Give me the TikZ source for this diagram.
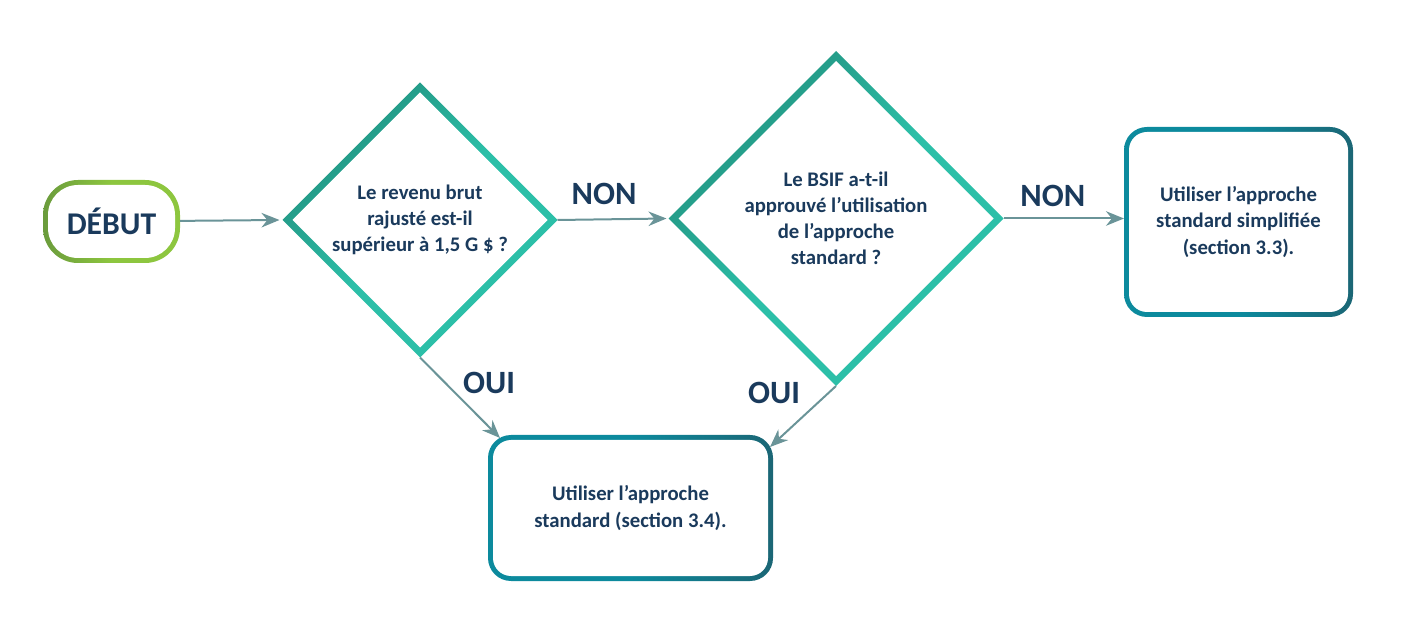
\documentclass[tikz,border=0pt]{standalone}
\usepackage{fontspec}
\setmainfont{Carlito}
\usepackage{xcolor}
\usetikzlibrary{shapes.geometric,arrows.meta,positioning,backgrounds,calc}

\definecolor{navy}{HTML}{1A3A5C}
\definecolor{dkteal}{HTML}{22907E}
\definecolor{ltteal}{HTML}{2CBFA8}
\definecolor{boxteal}{HTML}{0C8A9D}
\definecolor{boxdark}{HTML}{1B6675}
\definecolor{dkgreen}{HTML}{6A9B3C}
\definecolor{ltgreen}{HTML}{8DC63F}
\definecolor{arrowc}{HTML}{6A9498}

\begin{document}
\begin{tikzpicture}[
  txt/.style={font=\bfseries\fontsize{11.8}{14.9}\selectfont, text=navy, align=center},
  startbox/.style={rectangle, minimum width=2.74cm, minimum height=1.66cm, outer sep=0pt,
    font=\bfseries\fontsize{18}{22}\selectfont, text=navy},
  decision/.style={diamond, txt, inner sep=0pt, outer sep=0pt},
  actionbox/.style={rectangle, txt, outer sep=0pt},
  answer/.style={font=\bfseries\fontsize{18.5}{22}\selectfont, text=navy},
  arrow/.style={-{Stealth[length=0.36cm, width=0.29cm]}, line width=0.04cm, draw=arrowc}
]
\useasboundingbox (0,0) rectangle (28.46,-12.54);

\node[startbox] (start) at (2.23,-4.43) {DÉBUT};
\node[decision, minimum size=5.5cm] (d1) at (8.4,-4.4)
  {Le revenu brut\\rajusté est-il\\supérieur à 1,5 G \$ ?};
\node[decision, minimum size=6.7cm] (d2) at (16.72,-4.37)
  {Le BSIF a-t-il\\approuvé l’utilisation\\de l’approche\\standard ?};
\node[actionbox, minimum width=4.58cm, minimum height=3.8cm] (b1) at (24.77,-4.44)
  {Utiliser l’approche\\standard simplifiée\\(section 3.3).};
\node[actionbox, minimum width=5.7cm, minimum height=2.92cm] (b2) at (12.61,-10.16)
  {Utiliser l’approche\\standard (section 3.4).};

% frames with shaded borders
\begin{scope}[on background layer]
  \shade[left color=dkgreen, right color=ltgreen, middle color=ltgreen, rounded corners=0.7cm]
    (start.south west) rectangle (start.north east);
  \fill[white, rounded corners=0.6cm]
    ($(start.south west)+(0.1,0.1)$) rectangle ($(start.north east)-(0.1,0.1)$);
  \foreach \d in {d1,d2} {
    \shade[top color=dkteal, bottom color=ltteal, middle color=ltteal, shading angle=45]
      (\d.north) -- (\d.east) -- (\d.south) -- (\d.west) -- cycle;
    \fill[white] ($(\d.north)+(0,-0.2)$) -- ($(\d.east)+(-0.2,0)$)
      -- ($(\d.south)+(0,0.2)$) -- ($(\d.west)+(0.2,0)$) -- cycle;
  }
  \foreach \b in {b1,b2} {
    \shade[left color=boxteal, right color=boxdark, middle color=boxteal, rounded corners=0.46cm]
      (\b.south west) rectangle (\b.north east);
    \fill[white, rounded corners=0.36cm]
      ($(\b.south west)+(0.1,0.1)$) rectangle ($(\b.north east)-(0.1,0.1)$);
  }
\end{scope}

\draw[arrow] (start) -- ([xshift=-0.06cm]d1.west);
\draw[arrow] (d1.east) -- ([xshift=-0.04cm]d2.west)
  node[answer, midway, xshift=-0.16cm, yshift=0.5cm] {NON};
\draw[arrow] (d2.east) -- (d2.east -| b1.west)
  node[answer, midway, xshift=-0.22cm, yshift=0.46cm] {NON};
\draw[arrow] (d1.south) -- ([xshift=0.24cm,yshift=-0.06cm]b2.north west)
  node[answer, midway, xshift=0.58cm, yshift=0.3cm] {OUI};
\draw[arrow] (d2.south) -- ([xshift=-0.06cm,yshift=-0.24cm]b2.north east)
  node[answer, midway, xshift=-0.58cm, yshift=0.48cm] {OUI};
\end{tikzpicture}
\end{document}
